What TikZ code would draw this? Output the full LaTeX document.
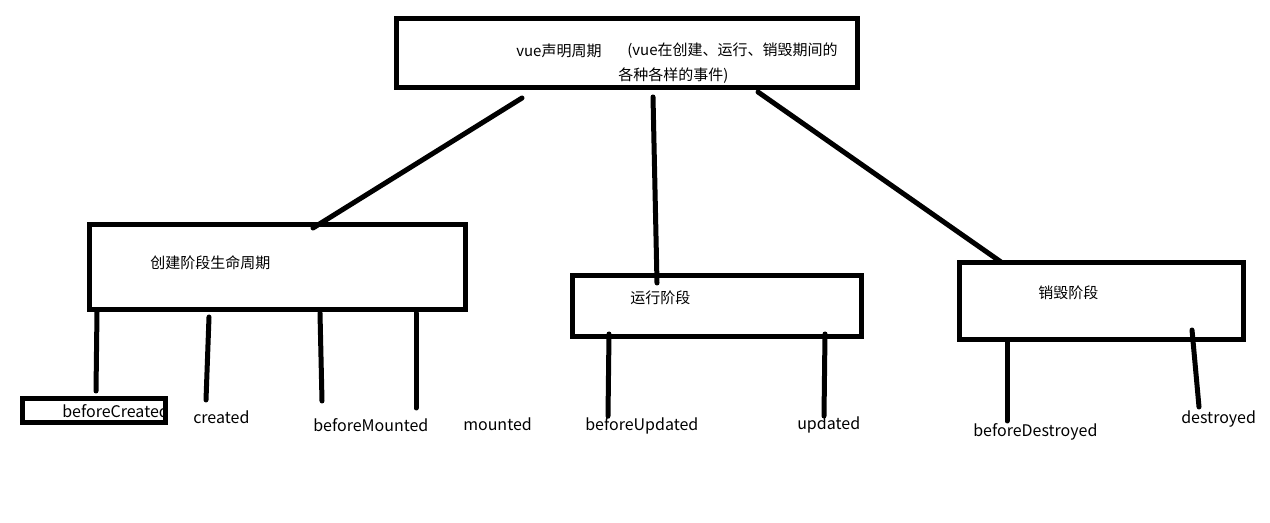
\documentclass[tikz,border=0pt]{standalone}
\usepackage{fontspec}
\setmainfont{Noto Sans CJK SC}
\begin{document}
\begin{tikzpicture}[x=0.75pt,y=-0.75pt,
  box/.style={draw=black,line width=3.75pt,minimum width=#1,inner sep=0pt},
  lbl/.style={anchor=west,inner sep=0pt,font=\fontsize{11.25}{13}\selectfont},
  word/.style={anchor=west,inner sep=0pt,font=\fontsize{12}{14}\selectfont},
  wire/.style={line width=3.75pt,line cap=round}]
\fill[white] (0,0) rectangle (1270,523);
\useasboundingbox (0,0) rectangle (1270,523);
% boxes
\node[box=345.75pt,minimum height=51.75pt] (top) at (626.5,53.5) {};
\node[box=282pt,minimum height=63.75pt] (create) at (277,267.5) {};
\node[box=216.75pt,minimum height=45.75pt] (run) at (716.5,306.5) {};
\node[box=213pt,minimum height=57.75pt] (destroy) at (1101,301.5) {};
\node[box=107.25pt,minimum height=18pt] (bcbox) at (93.5,411) {};
% texts
\node[lbl] (t1) at (516,51) {vue声明周期};
\node[lbl] (t2) at (627,51) {(vue在创建、运行、销毁期间的};
\node[lbl] (t3) at (618,76) {各种各样的事件)};
\node[lbl] (t4) at (150,263) {创建阶段生命周期};
\node[lbl] (t5) at (630,298) {运行阶段};
\node[lbl] (t6) at (1038,293) {销毁阶段};
\node[word] (bc) at (62,411) {beforeCreated};
\node[word] (cr) at (193,417) {created};
\node[word] (bm) at (313,425) {beforeMounted};
\node[word] (mo) at (463,424) {mounted};
\node[word] (bu) at (585,426) {beforeUpdated};
\node[word] (up) at (797,425) {updated};
\node[word] (bd) at (973,432) {beforeDestroyed};
\node[word] (de) at (1181,419) {destroyed};
% connector endpoints
\coordinate (a1) at (522,98);  \coordinate (a2) at (313,228);
\coordinate (b1) at (653,97);  \coordinate (b2) at (657,283);
\coordinate (c1) at (758,92);  \coordinate (c2) at (1001,262);
\coordinate (d1) at (97,312);  \coordinate (d2) at (96,391);
\coordinate (e1) at (209,317); \coordinate (e2) at (206,400);
\coordinate (f1) at (320,313); \coordinate (f2) at (322,401);
\coordinate (g1) at (416,313); \coordinate (g2) at (416,408);
\coordinate (h1) at (609,334); \coordinate (h2) at (608,416);
\coordinate (i1) at (825,334); \coordinate (i2) at (824,416);
\coordinate (j1) at (1007,340);\coordinate (j2) at (1007,421);
\coordinate (k1) at (1192,330);\coordinate (k2) at (1199,407);
\foreach \p in {a,b,c,d,e,f,g,h,i,j,k}{\draw[wire] (\p1) -- (\p2);}
\end{tikzpicture}
\end{document}
